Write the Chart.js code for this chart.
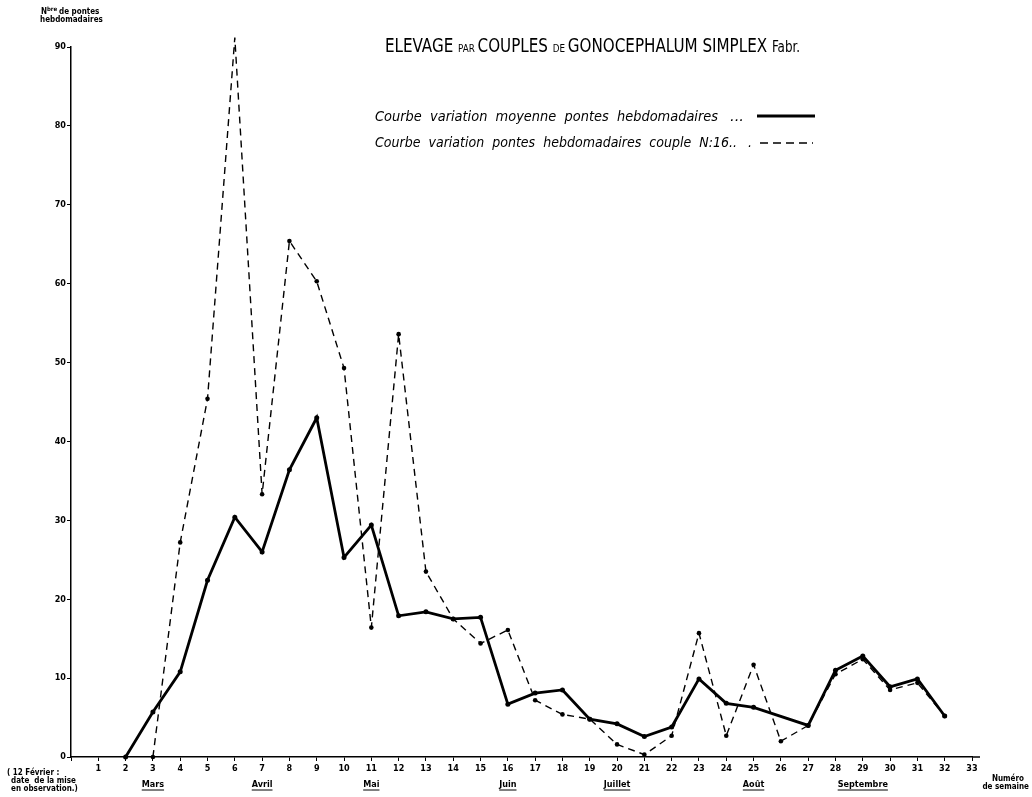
<!DOCTYPE html>
<html>
<head>
<meta charset="utf-8">
<script src="https://cdn.jsdelivr.net/npm/chart.js@4"></script>
<style>
  body { margin: 0; background: #fff; }
  canvas { display: block; }
</style>
</head>
<body>
<canvas id="myChart" width="1032" height="797"></canvas>
<script>
// weeks (numéro de semaine)
const weeks = [2, 3, 4, 5, 6, 7, 8, 9, 10, 11, 12, 13, 14, 15, 16, 17, 18, 19, 20, 21, 22, 23, 24, 25, 26, 27, 28, 29, 30, 31, 32];
// mean weekly egg layings (no point drawn at week 26)
const moyenne = [0, 5.7, 10.8, 22.4, 30.4, 26.0, 36.4, 43.0, 25.3, 29.4, 17.9, 18.4, 17.5, 17.7, 6.7, 8.1, 8.5, 4.8, 4.2, 2.6, 3.8, 9.9, 6.8, 6.3, null, 4.0, 11.0, 12.8, 8.9, 9.9, 5.2];
// couple N°16 (starts at week 3)
const couple16 = [null, 0, 27.2, 45.4, 91.2, 33.3, 65.4, 60.3, 49.3, 16.4, 53.6, 23.5, 17.5, 14.4, 16.1, 7.2, 5.4, 4.8, 1.6, 0.3, 2.7, 15.7, 2.7, 11.7, 2.0, 4.0, 10.5, 12.4, 8.5, 9.4, 5.2];
const yTicks = [0, 10, 20, 30, 40, 50, 60, 70, 80, 90];
const months = [['Mars', 3], ['Avril', 7], ['Mai', 11], ['Juin', 16], ['Juillet', 20], ['Août', 25], ['Septembre', 29]];

const toPoints = vals => weeks.map((w, i) => ({ x: w, y: vals[i] }));

// draw text squeezed/stretched to a given width
function fitText(ctx, text, x, y, width, font) {
    ctx.save();
    ctx.font = font;
    const w = ctx.measureText(text).width;
    ctx.translate(x, y);
    ctx.scale(width / w, 1);
    ctx.fillText(text, 0, 0);
    ctx.restore();
}

const extras = {
    id: 'extras',
    afterDraw(chart) {
        const ctx = chart.ctx;
        const x = chart.scales.x;
        ctx.save();
        ctx.fillStyle = '#000';
        ctx.strokeStyle = '#000';
        ctx.textBaseline = 'alphabetic';
        ctx.textAlign = 'left';

        // title, mixed sizes
        const parts = [
            ['ELEVAGE ', 19], ['PAR ', 11], ['COUPLES ', 19], ['DE ', 11],
            ['GONOCEPHALUM SIMPLEX ', 19], ['Fabr.', 15]
        ];
        let total = 0;
        parts.forEach(p => {
            ctx.font = p[1] + 'px "DejaVu Sans Condensed"';
            total += ctx.measureText(p[0]).width;
        });
        const k = 415 / total;
        let tx = 385;
        parts.forEach(p => {
            ctx.font = p[1] + 'px "DejaVu Sans Condensed"';
            const w = ctx.measureText(p[0]).width;
            fitText(ctx, p[0], tx, 52, w * k, ctx.font);
            tx += w * k;
        });

        // legend
        const lf = 'italic 14px "DejaVu Sans"';
        fitText(ctx, 'Courbe  variation  moyenne  pontes  hebdomadaires', 375, 121, 343, lf);
        fitText(ctx, '...', 730, 121, 14, lf);
        fitText(ctx, 'Courbe  variation  pontes  hebdomadaires  couple  N:16..', 375, 147, 362, lf);
        fitText(ctx, '.', 748, 147, 4, lf);
        ctx.lineWidth = 3;
        ctx.beginPath();
        ctx.moveTo(757, 116);
        ctx.lineTo(815, 116);
        ctx.stroke();
        ctx.lineWidth = 1.6;
        ctx.setLineDash([8, 5]);
        ctx.beginPath();
        ctx.moveTo(760, 143);
        ctx.lineTo(813, 143);
        ctx.stroke();
        ctx.setLineDash([]);

        // y axis caption
        ctx.font = 'bold 8px "DejaVu Sans Condensed"';
        ctx.fillText('N', 41, 14);
        ctx.font = 'bold 6px "DejaVu Sans Condensed"';
        ctx.fillText('bre', 47, 11);
        ctx.font = 'bold 8px "DejaVu Sans Condensed"';
        ctx.fillText('de pontes', 59, 14);
        ctx.fillText('hebdomadaires', 40, 22);

        // note bottom left
        ctx.font = 'bold 8px "DejaVu Sans Condensed"';
        ctx.fillText('( 12 Février :', 7, 775);
        ctx.fillText('date  de la mise', 11, 783);
        ctx.fillText('en observation.)', 11, 791);

        // x axis caption
        ctx.textAlign = 'right';
        ctx.fillText('Numéro', 1024, 781);
        ctx.fillText('de semaine', 1029, 789);

        // extend the x axis a little past week 33
        ctx.lineWidth = 1.5;
        ctx.beginPath();
        ctx.moveTo(x.right, x.top);
        ctx.lineTo(x.right + 8, x.top);
        ctx.stroke();

        // months, underlined
        ctx.font = 'bold 9px "DejaVu Sans Condensed"';
        ctx.textAlign = 'center';
        ctx.lineWidth = 1;
        months.forEach(m => {
            const px = x.getPixelForValue(m[1]);
            ctx.fillText(m[0], px, 787);
            const w = ctx.measureText(m[0]).width;
            ctx.beginPath();
            ctx.moveTo(px - w / 2, 790);
            ctx.lineTo(px + w / 2, 790);
            ctx.stroke();
        });
        ctx.restore();
    }
};

const ctx = document.getElementById('myChart').getContext('2d');
new Chart(ctx, {
    type: 'line',
    data: {
        datasets: [{
            label: 'Courbe variation moyenne pontes hebdomadaires',
            data: toPoints(moyenne),
            borderColor: '#000',
            backgroundColor: '#000',
            borderWidth: 2.8,
            pointRadius: 2.5,
            pointBorderWidth: 0,
            tension: 0,
            spanGaps: true,
            clip: false
        }, {
            label: 'Courbe variation pontes hebdomadaires couple N:16',
            data: toPoints(couple16),
            borderColor: '#000',
            backgroundColor: '#000',
            borderWidth: 1.4,
            borderDash: [7, 5],
            pointRadius: 2.3,
            pointBorderWidth: 0,
            tension: 0,
            spanGaps: false,
            clip: false
        }]
    },
    options: {
        responsive: false,
        animation: false,
        devicePixelRatio: 1,
        layout: { padding: { top: 47, right: 60, bottom: 0, left: 0 } },
        plugins: {
            legend: { display: false },
            title: { display: false },
            tooltip: { enabled: false }
        },
        scales: {
            x: {
                type: 'linear',
                min: 0,
                max: 33,
                afterFit: s => { s.height = 40; },
                afterBuildTicks: s => { s.ticks = Array.from({ length: 34 }, (_, i) => ({ value: i })); },
                grid: { drawOnChartArea: false, drawTicks: true, tickLength: 4, color: '#000', lineWidth: 1 },
                border: { display: true, color: '#000', width: 1.5 },
                ticks: {
                    color: '#000',
                    padding: 2,
                    maxRotation: 0,
                    autoSkip: false,
                    font: { family: 'DejaVu Sans Condensed', size: 9, weight: 'bold' },
                    callback: v => (v === 0 ? '' : v)
                }
            },
            y: {
                min: 0,
                max: 90,
                afterFit: s => { s.width = 71; },
                afterBuildTicks: s => { s.ticks = yTicks.map(v => ({ value: v })); },
                grid: { drawOnChartArea: false, drawTicks: true, tickLength: 4, color: '#000', lineWidth: 1 },
                border: { display: true, color: '#000', width: 1.5 },
                ticks: {
                    color: '#000',
                    padding: 1,
                    font: { family: 'DejaVu Sans Condensed', size: 9, weight: 'bold' }
                }
            }
        }
    },
    plugins: [extras]
});
</script>
</body>
</html>
